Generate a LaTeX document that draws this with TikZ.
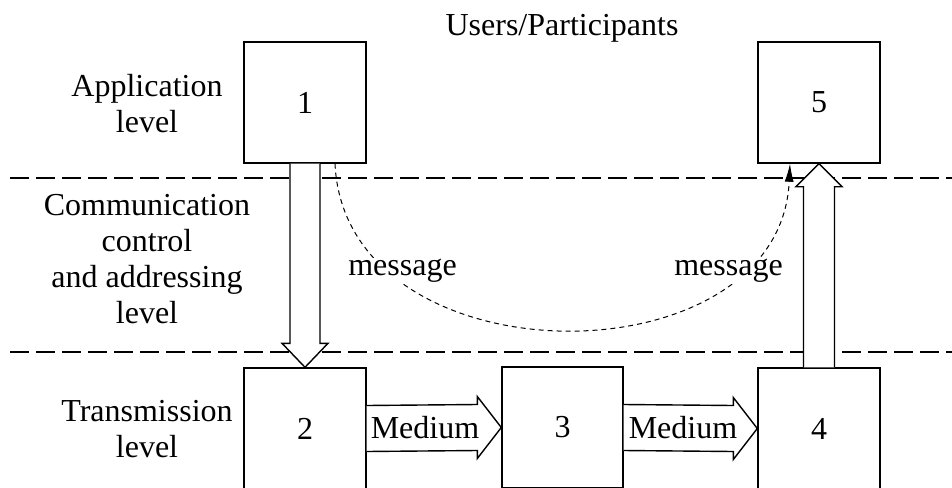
\documentclass[tikz,border=0pt]{standalone}
\usepackage{fontspec}
\setmainfont{Liberation Serif}
\usetikzlibrary{calc,arrows.meta}
\begin{document}
\begin{tikzpicture}[x=1pt,y=-1pt,
  every node/.style={font=\fontsize{32}{36}\selectfont},
  boxnode/.style={draw,line width=1.4pt,minimum width=122pt,minimum height=121pt,inner sep=0pt},
  txt/.style={align=center,inner sep=0pt},
  sepline/.style={line width=1.2pt,dash pattern=on 19pt off 7pt},
  fat/.style={draw,fill=white,line width=1.4pt,line join=miter},
  msg/.style={dashed,line width=1pt,dash pattern=on 5pt off 4pt},
  msgtxt/.style={fill=white,inner sep=1pt}]
\useasboundingbox (0,0) rectangle (952,487);
\clip (0,0) rectangle (952,487);
% separator lines
\coordinate (l1a) at (10,178); \coordinate (l1b) at (960,178);
\coordinate (l2a) at (10,352); \coordinate (l2b) at (960,352);
\draw[sepline] (l1a) -- (l1b);
\draw[sepline] (l2a) -- (l2b);
% boxes
\node[boxnode] (b1) at (305,102.5) {1};
\node[boxnode] (b5) at (819,102.5) {5};
\node[boxnode] (b2) at (305,428.5) {2};
\node[boxnode,minimum width=121pt] (b3) at (562.5,427.5) {3};
\node[boxnode] (b4) at (819,428.5) {4};
% labels
\node[txt] (users) at (562,28) {Users/Participants};
\node[txt] (app) at (147,104) {Application\\level};
\node[txt] (comm) at (147,259.5) {Communication\\control\\and addressing\\level};
\node[txt] (trans) at (147,429.5) {Transmission\\level};
% down arrow 1 -> 2
\path[fat] ($(b1.south)+(-15,0)$) -- ($(b2.north)+(-15,-24)$) -- ($(b2.north)+(-23,-24)$) -- (b2.north)
  -- ($(b2.north)+(23,-24)$) -- ($(b2.north)+(15,-24)$) -- ($(b1.south)+(15,0)$);
% up arrow 4 -> 5
\path[fat] ($(b4.north)+(-15.5,0)$) -- ($(b5.south)+(-15.5,23)$) -- ($(b5.south)+(-23,23)$) -- (b5.south)
  -- ($(b5.south)+(23,23)$) -- ($(b5.south)+(15.5,23)$) -- ($(b4.north)+(15.5,0)$);
% medium arrows
\path[fat] ($(b2.east)+(0,-23)$) -- ($(b3.west)+(-24,-23)$) -- ($(b3.west)+(-24,-31)$) -- (b3.west)
  -- ($(b3.west)+(-24,31)$) -- ($(b3.west)+(-24,23)$) -- ($(b2.east)+(0,23)$);
\path[fat] ($(b3.east)+(0,-23)$) -- ($(b4.west)+(-24,-23)$) -- ($(b4.west)+(-24,-31)$) -- (b4.west)
  -- ($(b4.west)+(-24,31)$) -- ($(b4.west)+(-24,23)$) -- ($(b3.east)+(0,23)$);
\node[txt] (med1) at (425,428) {Medium};
\node[txt] (med2) at (683,428) {Medium};
% message curve
\coordinate (ms) at ($(b1.south)+(30,0)$);
\coordinate (me) at ($(b5.south)+(-29,0)$);
\draw[msg,-{Latex[length=18pt,width=9pt]}] (ms) .. controls (345,384) and (780,384) .. (me);
\node[msgtxt] (m1) at (402.5,271) {message};
\node[msgtxt] (m2) at (728.5,271) {message};
\end{tikzpicture}
\end{document}
